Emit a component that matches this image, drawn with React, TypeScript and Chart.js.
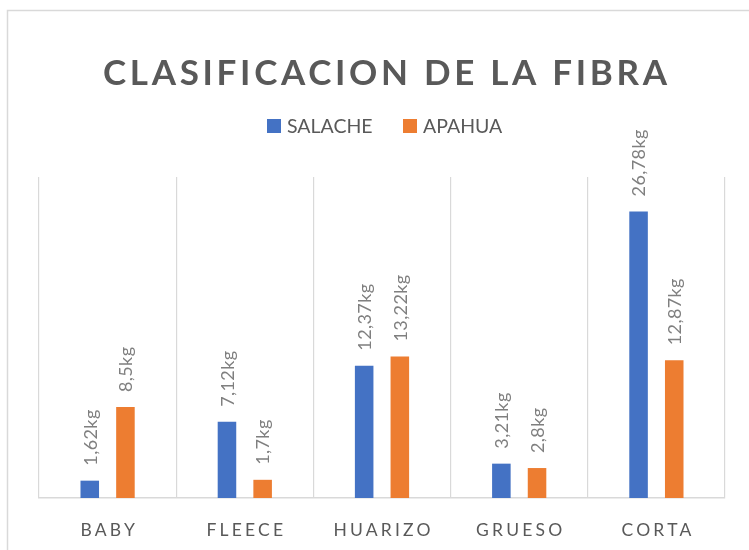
import React, { useEffect, useRef } from "react";
import { Chart, registerables } from "chart.js";

Chart.register(...registerables);

// ---- data ----
const categories = ["BABY", "FLEECE", "HUARIZO", "GRUESO", "CORTA"];
const salacheValues = [1.62, 7.12, 12.37, 3.21, 26.78];
const apahuaValues = [8.5, 1.7, 13.22, 2.8, 12.87];
const seriesNames = ["SALACHE", "APAHUA"];
const titleText = "CLASIFICACION DE LA FIBRA";
const valueUnit = "kg";
const yMin = 0;
const yMax = 30;

// ---- styles ----
const BLUE = "#4472C4";
const ORANGE = "#ED7D31";
const TEXT_DARK = "#595959";
const TEXT_LABEL = "#7F7F7F";
const GRID = "#D9D9D9";
const FONT = "Lato, 'Open Sans', 'DejaVu Sans', sans-serif";

function formatValue(v: number): string {
  return String(v).replace(".", ",") + valueUnit;
}

const decorPlugin = {
  id: "decor",
  beforeDraw(chart: any) {
    const ctx = chart.ctx as CanvasRenderingContext2D;
    ctx.save();
    ctx.fillStyle = "#ffffff";
    ctx.fillRect(0, 0, chart.width, chart.height);
    ctx.strokeStyle = GRID;
    ctx.lineWidth = 1.5;
    ctx.beginPath();
    ctx.moveTo(7.5, chart.height);
    ctx.lineTo(7.5, 10.5);
    ctx.lineTo(chart.width, 10.5);
    ctx.stroke();
    ctx.restore();
  },
  afterDatasetsDraw(chart: any) {
    const ctx = chart.ctx as CanvasRenderingContext2D;
    ctx.save();
    ctx.font = `18px ${FONT}`;
    ctx.fillStyle = TEXT_LABEL;
    (ctx as any).letterSpacing = "0.4px";
    chart.data.datasets.forEach((ds: any, di: number) => {
      const meta = chart.getDatasetMeta(di);
      meta.data.forEach((el: any, i: number) => {
        const txt = formatValue(ds.data[i]);
        ctx.save();
        ctx.translate(el.x + 1, el.y - 15);
        ctx.rotate(-Math.PI / 2);
        ctx.textAlign = "left";
        ctx.textBaseline = "middle";
        ctx.fillText(txt, 0, 0);
        ctx.restore();
      });
    });
    ctx.restore();
  },
  afterDraw(chart: any) {
    const ctx = chart.ctx as CanvasRenderingContext2D;
    // title
    ctx.save();
    ctx.fillStyle = TEXT_DARK;
    ctx.font = `bold 35px ${FONT}`;
    (ctx as any).letterSpacing = "0px";
    const w0 = ctx.measureText(titleText).width;
    const targetW = 564;
    const ls = (targetW - w0) / (titleText.length - 1);
    (ctx as any).letterSpacing = `${ls}px`;
    ctx.textAlign = "left";
    ctx.textBaseline = "alphabetic";
    ctx.fillText(titleText, 103, 85);
    ctx.restore();

    // legend
    ctx.save();
    ctx.font = `19.5px ${FONT}`;
    ctx.textAlign = "left";
    ctx.textBaseline = "alphabetic";
    const legendX = [267, 403];
    chart.data.datasets.forEach((ds: any, di: number) => {
      const x = legendX[di];
      ctx.fillStyle = ds.backgroundColor;
      ctx.fillRect(x, 119, 14, 14);
      ctx.fillStyle = TEXT_DARK;
      ctx.fillText(ds.label, x + 20, 133);
    });
    ctx.restore();

    // x labels
    const xScale = chart.scales.x;
    ctx.save();
    ctx.font = `17.5px ${FONT}`;
    ctx.fillStyle = TEXT_DARK;
    const lsx = 3.2;
    (ctx as any).letterSpacing = `${lsx}px`;
    ctx.textAlign = "center";
    ctx.textBaseline = "alphabetic";
    categories.forEach((c, i) => {
      const x = xScale.getPixelForValue(i);
      ctx.fillText(c, x + lsx / 2, 536);
    });
    ctx.restore();
  },
};

export default function App() {
  const ref = useRef<HTMLCanvasElement | null>(null);

  useEffect(() => {
    if (!ref.current) return;
    const chart = new Chart(ref.current, {
      type: "bar",
      data: {
        labels: categories,
        datasets: [
          {
            label: seriesNames[0],
            data: salacheValues,
            backgroundColor: BLUE,
            categoryPercentage: 0.52,
            barPercentage: 0.52,
          },
          {
            label: seriesNames[1],
            data: apahuaValues,
            backgroundColor: ORANGE,
            categoryPercentage: 0.52,
            barPercentage: 0.52,
          },
        ],
      },
      options: {
        animation: false,
        responsive: false,
        devicePixelRatio: 1,
        layout: { padding: { left: 39, right: 24, top: 177, bottom: 52 } },
        plugins: {
          legend: { display: false },
          title: { display: false },
          tooltip: { enabled: false },
        },
        scales: {
          x: {
            grid: { color: GRID, drawTicks: false, offset: true, lineWidth: 1.2 },
            border: { color: GRID, width: 1.5 },
            ticks: { display: false },
          },
          y: { display: false, min: yMin, max: yMax },
        },
      },
      plugins: [decorPlugin],
    });
    return () => chart.destroy();
  }, []);

  return (
    <div style={{ position: "fixed", left: 0, top: 0, width: 749, height: 550 }}>
      <canvas ref={ref} width={749} height={550} style={{ display: "block" }} />
    </div>
  );
}
